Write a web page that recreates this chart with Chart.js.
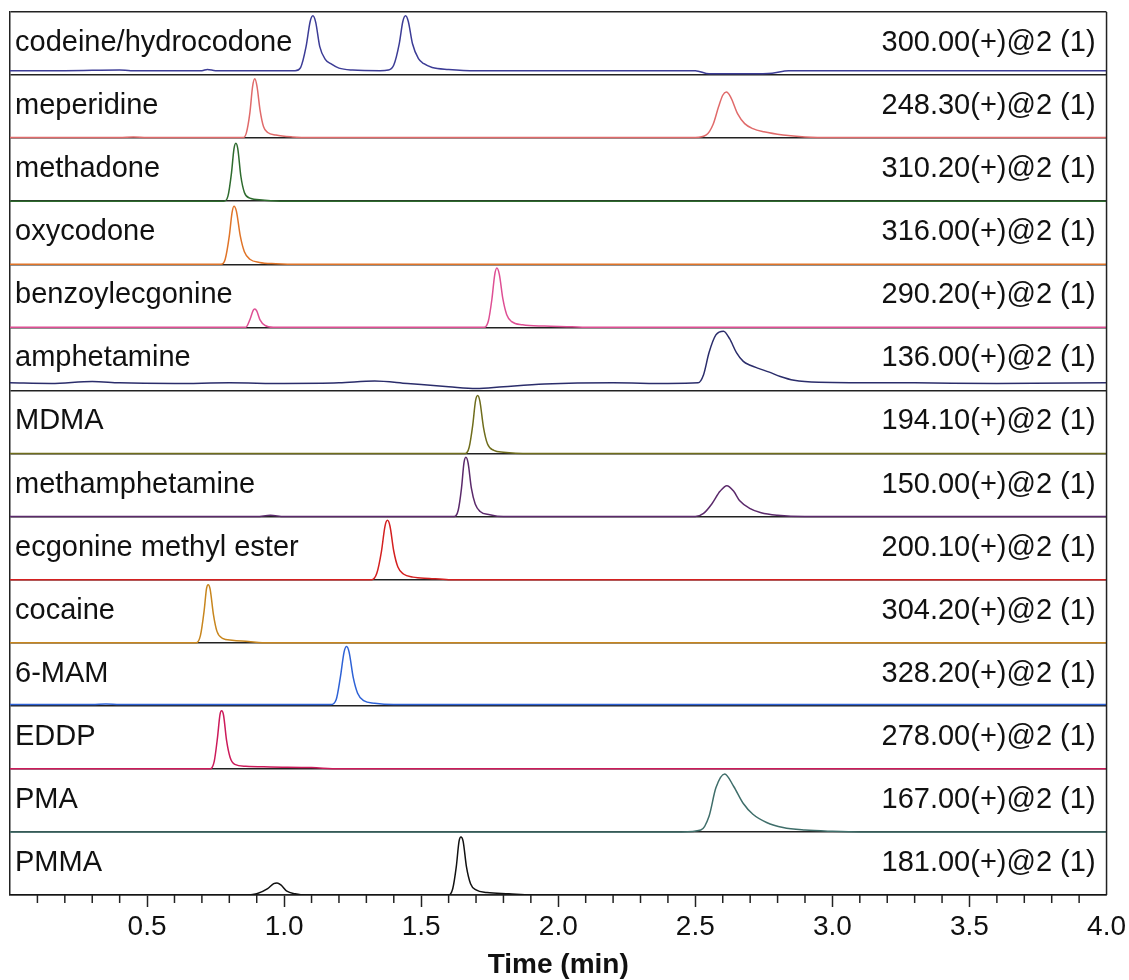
<!DOCTYPE html>
<html>
<head>
<meta charset="utf-8">
<script src="https://cdn.jsdelivr.net/npm/chart.js@4.4.1/dist/chart.umd.min.js"></script>
<style>
  body { margin: 0; background: #fff; }
  canvas { display: block; }
</style>
</head>
<body>
<canvas id="chart" width="1129" height="980"></canvas>
<script>
// compounds, top panel first
const compounds = [
    'codeine/hydrocodone', 'meperidine', 'methadone', 'oxycodone',
    'benzoylecgonine', 'amphetamine', 'MDMA', 'methamphetamine',
    'ecgonine methyl ester', 'cocaine', '6-MAM', 'EDDP', 'PMA', 'PMMA',
]
const transitions = [
    '300.00(+)@2 (1)', '248.30(+)@2 (1)', '310.20(+)@2 (1)', '316.00(+)@2 (1)',
    '290.20(+)@2 (1)', '136.00(+)@2 (1)', '194.10(+)@2 (1)', '150.00(+)@2 (1)',
    '200.10(+)@2 (1)', '304.20(+)@2 (1)', '328.20(+)@2 (1)', '278.00(+)@2 (1)',
    '167.00(+)@2 (1)', '181.00(+)@2 (1)',
]
const tickLabels = ['0.5', '1.0', '1.5', '2.0', '2.5', '3.0', '3.5', '4.0']

// [time (min), relative intensity in its panel]
const codeine = [[0, 0.07], [0.2, 0.07], [0.4, 0.08], [0.44, 0.07], [0.7, 0.07], [0.72, 0.09], [0.75, 0.07],
    [1.04, 0.07], [1.06, 0.12], [1.08, 0.45], [1.095, 0.85], [1.105, 0.94], [1.115, 0.84], [1.13, 0.45],
    [1.15, 0.25], [1.17, 0.18], [1.2, 0.11], [1.25, 0.08], [1.35, 0.07], [1.38, 0.08], [1.4, 0.16],
    [1.42, 0.5], [1.433, 0.85], [1.443, 0.94], [1.453, 0.85], [1.468, 0.5], [1.49, 0.26], [1.51, 0.18],
    [1.54, 0.12], [1.6, 0.09], [1.7, 0.07], [2.5, 0.07], [2.55, 0.02], [2.7, 0.02], [2.78, 0.03],
    [2.84, 0.07], [4, 0.07]]
const meperidine = [[0, 0.01], [0.4, 0.01], [0.45, 0.02], [0.5, 0.01], [0.85, 0.01], [0.862, 0.08],
    [0.875, 0.4], [0.885, 0.82], [0.893, 0.94], [0.901, 0.82], [0.912, 0.45], [0.925, 0.18], [0.94, 0.09],
    [0.97, 0.05], [1.03, 0.02], [1.1, 0.01], [2.5, 0.01], [2.54, 0.05], [2.565, 0.22], [2.585, 0.5],
    [2.6, 0.68], [2.613, 0.73], [2.628, 0.66], [2.655, 0.38], [2.68, 0.23], [2.71, 0.15], [2.75, 0.1],
    [2.82, 0.05], [2.9, 0.02], [3.0, 0.01], [4, 0.01]]
const methadone = [[0, 0], [0.78, 0], [0.795, 0.08], [0.808, 0.45], [0.817, 0.83], [0.824, 0.92],
    [0.831, 0.83], [0.842, 0.4], [0.855, 0.14], [0.875, 0.05], [0.92, 0.02], [1.0, 0], [4, 0]]
const oxycodone = [[0, 0], [0.77, 0], [0.785, 0.08], [0.8, 0.45], [0.81, 0.82], [0.817, 0.92],
    [0.826, 0.84], [0.84, 0.45], [0.855, 0.2], [0.875, 0.08], [0.91, 0.03], [0.97, 0.01], [1.05, 0], [4, 0]]
const benzoylecgonine = [[0, 0], [0.86, 0], [0.875, 0.12], [0.887, 0.27], [0.893, 0.29], [0.9, 0.26],
    [0.912, 0.12], [0.93, 0.03], [0.96, 0], [1.73, 0], [1.745, 0.1], [1.758, 0.45], [1.768, 0.83],
    [1.776, 0.94], [1.785, 0.84], [1.798, 0.45], [1.812, 0.2], [1.83, 0.09], [1.87, 0.04], [1.95, 0.02],
    [2.05, 0.01], [2.1, 0], [4, 0]]
const amphetamine = [[0, 0.12], [0.15, 0.11], [0.3, 0.14], [0.4, 0.12], [0.6, 0.11], [0.8, 0.12],
    [1.0, 0.11], [1.2, 0.12], [1.33, 0.15], [1.45, 0.11], [1.6, 0.06], [1.7, 0.03], [1.8, 0.06],
    [1.95, 0.1], [2.2, 0.12], [2.4, 0.11], [2.51, 0.12], [2.53, 0.25], [2.55, 0.6], [2.575, 0.88],
    [2.603, 0.94], [2.625, 0.82], [2.65, 0.6], [2.675, 0.46], [2.7, 0.4], [2.73, 0.35], [2.77, 0.29],
    [2.81, 0.22], [2.86, 0.16], [2.95, 0.13], [3.3, 0.12], [3.6, 0.11], [4, 0.12]]
const mdma = [[0, 0], [1.66, 0], [1.675, 0.1], [1.688, 0.45], [1.698, 0.83], [1.706, 0.92], [1.714, 0.83],
    [1.727, 0.42], [1.742, 0.15], [1.765, 0.05], [1.8, 0.02], [1.9, 0], [4, 0]]
const methamphetamine = [[0, 0], [0.9, 0], [0.95, 0.02], [1.0, 0], [1.62, 0], [1.635, 0.1], [1.647, 0.45],
    [1.656, 0.85], [1.663, 0.94], [1.671, 0.85], [1.683, 0.45], [1.697, 0.2], [1.715, 0.08], [1.75, 0.03],
    [1.8, 0], [2.5, 0], [2.53, 0.05], [2.56, 0.2], [2.59, 0.4], [2.615, 0.49], [2.64, 0.4], [2.662, 0.25],
    [2.698, 0.13], [2.74, 0.06], [2.8, 0.02], [2.9, 0], [4, 0]]
const ecgonine = [[0, 0], [1.32, 0], [1.338, 0.1], [1.355, 0.45], [1.368, 0.85], [1.377, 0.94],
    [1.386, 0.85], [1.4, 0.45], [1.415, 0.2], [1.435, 0.09], [1.47, 0.04], [1.53, 0.02], [1.6, 0], [4, 0]]
const cocaine = [[0, 0], [0.68, 0], [0.695, 0.12], [0.708, 0.5], [0.717, 0.86], [0.723, 0.92], [0.73, 0.85],
    [0.742, 0.45], [0.755, 0.18], [0.775, 0.07], [0.81, 0.04], [0.87, 0.02], [0.92, 0], [4, 0]]
const mam6 = [[0, 0.02], [0.3, 0.02], [0.35, 0.03], [0.4, 0.02], [1.17, 0.02], [1.19, 0.1], [1.205, 0.45],
    [1.219, 0.86], [1.228, 0.94], [1.237, 0.85], [1.252, 0.45], [1.268, 0.2], [1.29, 0.08], [1.33, 0.04],
    [1.4, 0.02], [4, 0.02]]
const eddp = [[0, 0], [0.73, 0], [0.745, 0.12], [0.757, 0.5], [0.766, 0.86], [0.772, 0.92], [0.779, 0.85],
    [0.79, 0.45], [0.803, 0.18], [0.82, 0.07], [0.86, 0.04], [0.95, 0.03], [1.1, 0.02], [1.2, 0], [4, 0]]
const pma = [[0, 0], [2.45, 0], [2.52, 0.03], [2.55, 0.25], [2.575, 0.7], [2.607, 0.92], [2.64, 0.72],
    [2.675, 0.45], [2.71, 0.28], [2.76, 0.15], [2.82, 0.07], [2.9, 0.03], [3.0, 0.01], [3.1, 0], [4, 0]]
const pmma = [[0, 0], [0.85, 0], [0.9, 0.02], [0.94, 0.1], [0.962, 0.18], [0.974, 0.19], [0.988, 0.16],
    [1.01, 0.06], [1.04, 0.02], [1.08, 0], [1.6, 0], [1.615, 0.1], [1.628, 0.45], [1.638, 0.85],
    [1.645, 0.92], [1.653, 0.85], [1.665, 0.45], [1.68, 0.18], [1.7, 0.08], [1.74, 0.04], [1.82, 0.02],
    [1.9, 0], [4, 0]]

const traces = [codeine, meperidine, methadone, oxycodone, benzoylecgonine, amphetamine, mdma,
    methamphetamine, ecgonine, cocaine, mam6, eddp, pma, pmma]
const colors = ['#3c3c96', '#e06a6a', '#2e6b2e', '#e07428', '#de4f94', '#2b2d6b', '#6f6d1c',
    '#5b2a6b', '#d42020', '#c8861e', '#2e62d6', '#cc1a5a', '#3f6e6a', '#111111']

const FONT = '"Liberation Sans", Arial, sans-serif'
const nPanels = compounds.length

// each panel is one unit tall on the shared y scale, top panel highest
const datasets = traces.map((trace, i) => ({
    label: compounds[i],
    data: trace.map(([t, h]) => ({ x: t, y: nPanels - 1 - i + h })),
    borderColor: colors[i],
    borderWidth: 1.5,
    pointRadius: 0,
    cubicInterpolationMode: 'monotone',
    fill: false,
}))

const isMajor = v => Math.abs(v * 2 - Math.round(v * 2)) < 1e-6

const panelText = {
    id: 'panelText',
    afterDatasetsDraw(chart) {
        const { ctx, chartArea, scales } = chart
        ctx.save()
        ctx.font = '29px ' + FONT
        ctx.fillStyle = '#111'
        ctx.textBaseline = 'middle'
        compounds.forEach((name, i) => {
            const top = scales.y.getPixelForValue(nPanels - i)
            ctx.textAlign = 'left'
            ctx.fillText(name, chartArea.left + 5, top + 31)
            ctx.textAlign = 'right'
            ctx.fillText(transitions[i], chartArea.right - 11, top + 31)
        })
        // right frame edge
        ctx.strokeStyle = '#222'
        ctx.lineWidth = 1.5
        ctx.beginPath()
        ctx.moveTo(chartArea.right, chartArea.top)
        ctx.lineTo(chartArea.right, chartArea.bottom)
        ctx.stroke()
        // minor ticks, shorter than the labelled ones
        for (let k = 1; k < 40; k++) {
            if (k % 5 === 0) continue
            const x = scales.x.getPixelForValue(k / 10)
            ctx.beginPath()
            ctx.moveTo(x, chartArea.bottom)
            ctx.lineTo(x, chartArea.bottom + 8)
            ctx.stroke()
        }
        ctx.restore()
    },
}

new Chart(document.getElementById('chart'), {
    type: 'line',
    data: { datasets },
    plugins: [panelText],
    options: {
        responsive: false,
        animation: false,
        layout: { padding: { left: 10, top: 12, right: 22, bottom: 0 } },
        plugins: { legend: { display: false }, tooltip: { enabled: false } },
        scales: {
            x: {
                type: 'linear',
                min: 0,
                max: 4,
                afterFit: scale => { scale.height = 85 },
                border: { display: true, color: '#222', width: 1.5 },
                grid: {
                    drawOnChartArea: false,
                    tickLength: 12,
                    tickWidth: 1.5,
                    tickColor: ctx => {
                        const v = ctx.tick ? ctx.tick.value : 0
                        return isMajor(v) && v > 0 && v < 4 ? '#222' : 'rgba(0,0,0,0)'
                    },
                },
                ticks: {
                    stepSize: 0.1,
                    maxTicksLimit: 100,
                    autoSkip: false,
                    maxRotation: 0,
                    padding: 3,
                    color: '#111',
                    font: { family: FONT, size: 28 },
                    callback: value => {
                        if (!isMajor(value)) return ''
                        const label = value.toFixed(1)
                        return tickLabels.includes(label) ? label : ''
                    },
                },
                title: {
                    display: true,
                    text: 'Time (min)',
                    color: '#111',
                    font: { family: FONT, size: 28, weight: 'bold', lineHeight: 1 },
                    padding: { top: 0, bottom: 1 },
                },
            },
            y: {
                type: 'linear',
                min: 0,
                max: nPanels,
                afterFit: scale => { scale.width = 0 },
                border: { display: true, color: '#222', width: 1.5 },
                grid: { color: '#222', lineWidth: 1.5, drawTicks: false },
                ticks: { display: false, stepSize: 1 },
            },
        },
    },
})
</script>
</body>
</html>
